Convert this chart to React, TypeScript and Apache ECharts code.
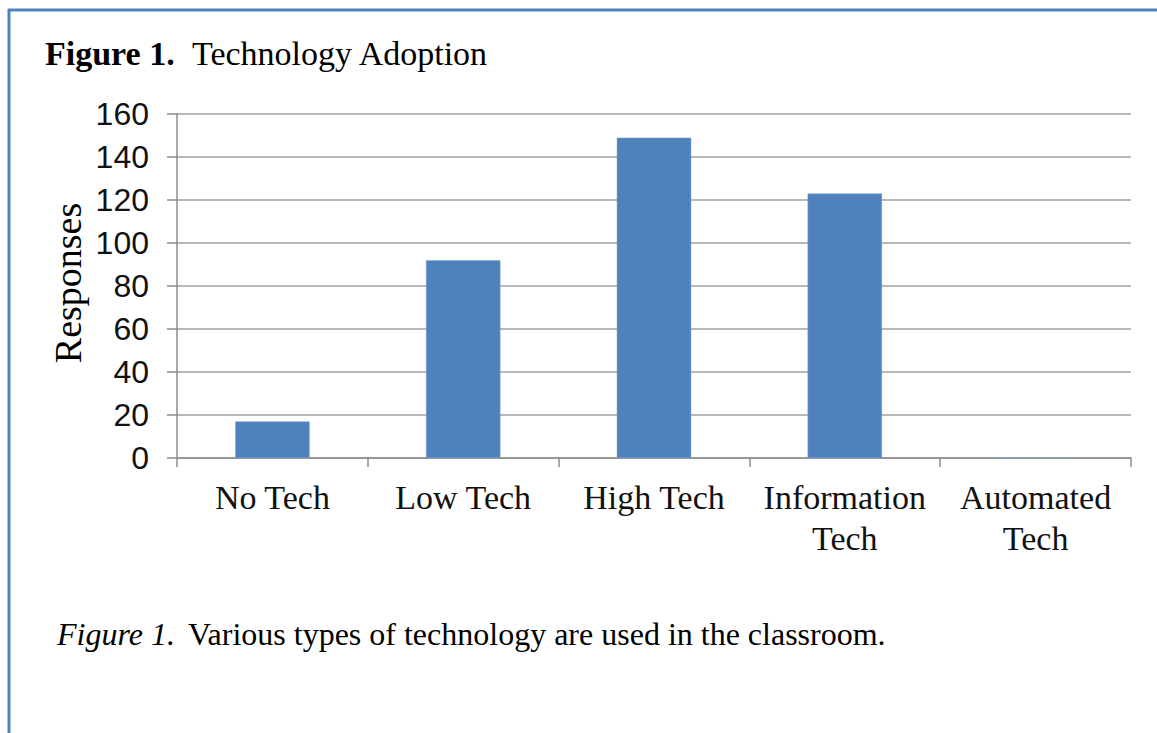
import React, { useEffect, useRef } from "react";
import * as echarts from "echarts";

const categories = ["No Tech", "Low Tech", "High Tech", "Information\nTech", "Automated\nTech"];
const responses = [17, 92, 149, 123, 0];
const yTicks = { min: 0, max: 160, interval: 20 };
const titleBold = "Figure 1.";
const titleText = "Technology Adoption";
const yAxisTitle = "Responses";
const captionItalic = "Figure 1.";
const captionText = "Various types of technology are used in the classroom.";

export default function App() {
  const ref = useRef<HTMLDivElement>(null);
  useEffect(() => {
    document.body.style.margin = "0";
    const chart = echarts.init(ref.current!, null, { renderer: "svg" });
    const serif = "'Liberation Serif', 'Times New Roman', serif";
    chart.setOption({
      animation: false,
      backgroundColor: "#ffffff",
      grid: { left: 177, top: 114, right: 26, bottom: 275, containLabel: false },
      xAxis: {
        type: "category",
        data: categories,
        axisLine: { lineStyle: { color: "#8c8c8c", width: 1.5 } },
        axisTick: { show: true, length: 9, lineStyle: { color: "#8c8c8c", width: 1.5 } },
        axisLabel: { color: "#111", fontFamily: serif, fontSize: 34, lineHeight: 41, margin: 19, interval: 0 },
      },
      yAxis: {
        type: "value",
        min: yTicks.min,
        max: yTicks.max,
        interval: yTicks.interval,
        axisLine: { show: true, lineStyle: { color: "#8c8c8c", width: 1.5 } },
        axisTick: { show: true, length: 10, lineStyle: { color: "#8c8c8c", width: 1.5 } },
        splitLine: { lineStyle: { color: "#a0a0a0", width: 1.5 } },
        axisLabel: { color: "#111", fontFamily: "'Liberation Sans', Arial, sans-serif", fontSize: 32, margin: 28 },
      },
      series: [
        {
          type: "bar",
          data: responses,
          barWidth: "39%",
          itemStyle: { color: "#4f81bd", borderColor: "#7aa0d0", borderWidth: 0.5 },
        },
      ],
      graphic: [
        { type: "line", shape: { x1: 8, y1: 10, x2: 1157, y2: 10 }, style: { stroke: "#4f81bd", lineWidth: 3 } },
        { type: "line", shape: { x1: 9, y1: 9, x2: 9, y2: 733 }, style: { stroke: "#4f81bd", lineWidth: 3 } },
        {
          type: "text",
          x: 45,
          y: 70,
          style: { text: titleBold, font: `bold 34px ${serif}`, fill: "#000", textVerticalAlign: "bottom" },
        },
        {
          type: "text",
          x: 192,
          y: 70,
          style: { text: titleText, font: `34px ${serif}`, fill: "#000", textVerticalAlign: "bottom" },
        },
        {
          type: "text",
          x: 68,
          y: 283,
          rotation: Math.PI / 2,
          style: { text: yAxisTitle, font: `38px ${serif}`, fill: "#000", textAlign: "center", textVerticalAlign: "middle" },
        },
        {
          type: "text",
          x: 57,
          y: 650,
          style: { text: captionItalic, font: `italic 32px ${serif}`, fill: "#000", textVerticalAlign: "bottom" },
        },
        {
          type: "text",
          x: 188,
          y: 650,
          style: { text: captionText, font: `32px ${serif}`, fill: "#000", textVerticalAlign: "bottom" },
        },
      ],
    });
    return () => chart.dispose();
  }, []);
  return <div ref={ref} style={{ width: 1157, height: 733 }} />;
}
